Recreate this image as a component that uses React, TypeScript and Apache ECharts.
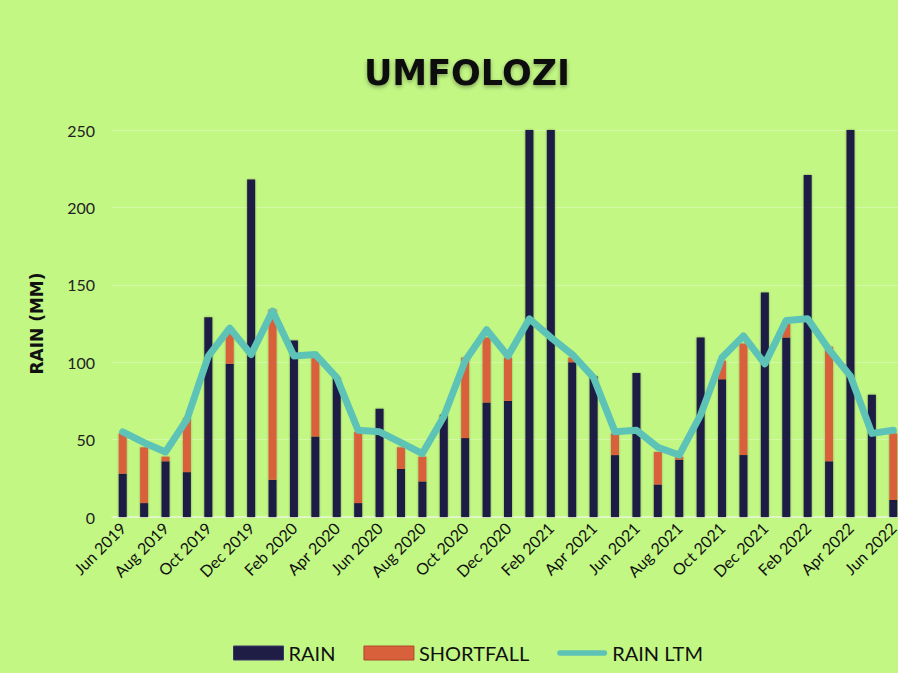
import React, { useEffect, useRef } from "react";
import * as echarts from "echarts";

const months = [
  "Jun 2019", "Jul 2019", "Aug 2019", "Sep 2019", "Oct 2019", "Nov 2019", "Dec 2019",
  "Jan 2020", "Feb 2020", "Mar 2020", "Apr 2020", "May 2020", "Jun 2020", "Jul 2020",
  "Aug 2020", "Sep 2020", "Oct 2020", "Nov 2020", "Dec 2020", "Jan 2021", "Feb 2021",
  "Mar 2021", "Apr 2021", "May 2021", "Jun 2021", "Jul 2021", "Aug 2021", "Sep 2021",
  "Oct 2021", "Nov 2021", "Dec 2021", "Jan 2022", "Feb 2022", "Mar 2022", "Apr 2022",
  "May 2022", "Jun 2022",
];

const rain = [
  28, 9, 36, 29, 129, 99, 218, 24, 114, 52, 90, 9, 70, 31, 23, 66, 51, 74, 75, 265,
  270, 100, 91, 40, 93, 21, 37, 116, 89, 40, 145, 116, 221, 36, 275, 79, 11,
];

const shortfall = [
  26, 36, 3, 35, 0, 23, 0, 110, 0, 51, 0, 46, 0, 14, 16, 0, 52, 42, 28, 0,
  0, 3, 0, 14, 0, 21, 2, 0, 12, 72, 0, 9, 0, 74, 0, 0, 43,
];

const rainLtm = [
  55, 48, 42, 63, 104, 122, 105, 133, 104, 105, 90, 56, 55, 48, 41, 65, 101, 121, 104, 128,
  116, 105, 90, 55, 56, 45, 40, 66, 103, 117, 99, 127, 128, 108, 91, 54, 56,
];

const yTicks = [0, 50, 100, 150, 200, 250];

export default function App() {
  const ref = useRef<HTMLDivElement>(null);
  useEffect(() => {
    if (!ref.current) return;
    const chart = echarts.init(ref.current, null, { renderer: "svg" });
    const font = "Lato, 'Open Sans', sans-serif";
    chart.setOption({
      animation: false,
      backgroundColor: "#C2F784",
      title: {
        text: "UMFOLOZI",
        left: 462,
        textAlign: "center",
        top: 50,
        textStyle: {
          fontFamily: "'DejaVu Sans', sans-serif",
          fontWeight: "bold",
          fontSize: 35,
          color: "#111",
          textShadowColor: "rgba(0,0,0,0.35)",
          textShadowBlur: 4,
          textShadowOffsetY: 2,
        },
      },
      legend: {
        bottom: 5,
        left: 228,
        itemWidth: 50,
        itemHeight: 14,
        itemGap: 28,
        textStyle: { fontFamily: font, fontSize: 20, color: "#111" },
        data: [
          { name: "RAIN", icon: "rect", itemStyle: { borderColor: "#3a3a6a", borderWidth: 1 } },
          { name: "SHORTFALL", icon: "rect", itemStyle: { borderColor: "#b04a2a", borderWidth: 1 } },
          { name: "RAIN LTM", icon: "path://M3,0 L53,0 A3,3 0 0 1 53,6 L3,6 A3,3 0 0 1 3,0 Z" },
        ],
      },
      grid: {
        left: 112,
        right: -6,
        top: 130,
        bottom: 156,
        containLabel: false,
        outerBoundsMode: "none",
      },
      xAxis: {
        type: "category",
        data: months,
        boundaryGap: true,
        axisTick: { show: false },
        axisLine: { lineStyle: { color: "#e6f7d8", width: 1.5 } },
        axisLabel: {
          interval: 1,
          rotate: 45,
          fontFamily: font,
          fontSize: 16,
          color: "#111",
          margin: 8,
        },
      },
      yAxis: {
        type: "value",
        min: 0,
        max: 250,
        interval: 50,
        name: "RAIN (MM)",
        nameLocation: "middle",
        nameGap: 67,
        nameTextStyle: {
          fontFamily: "'DejaVu Sans', sans-serif",
          fontWeight: "bold",
          fontSize: 17,
          color: "#111",
        },
        axisLine: { show: false },
        axisTick: { show: false },
        axisLabel: {
          fontFamily: font,
          fontSize: 16,
          color: "#222",
          margin: 17,
          formatter: (v: number) => (yTicks.includes(v) ? String(v) : ""),
        },
        splitLine: { lineStyle: { color: "rgba(255,255,255,0.28)", width: 1 } },
      },
      series: [
        {
          name: "RAIN",
          type: "bar",
          stack: "total",
          data: rain,
          barWidth: 8,
          clip: true,
          itemStyle: {
            color: "#1F1D45",
            shadowColor: "rgba(0,0,0,0.35)",
            shadowBlur: 2,
          },
        },
        {
          name: "SHORTFALL",
          type: "bar",
          stack: "total",
          data: shortfall,
          barWidth: 8,
          clip: true,
          itemStyle: {
            color: "#D8603A",
            shadowColor: "rgba(0,0,0,0.3)",
            shadowBlur: 2,
          },
        },
        {
          name: "RAIN LTM",
          type: "line",
          data: rainLtm,
          symbol: "none",
          clip: true,
          lineStyle: { color: "#5CC3B6", width: 7, join: "round", cap: "round" },
          itemStyle: { color: "#5CC3B6" },
          z: 5,
        },
      ],
    });
    return () => chart.dispose();
  }, []);
  return (
    <div
      ref={ref}
      style={{ position: "fixed", left: 0, top: 0, width: 898, height: 673 }}
    />
  );
}
